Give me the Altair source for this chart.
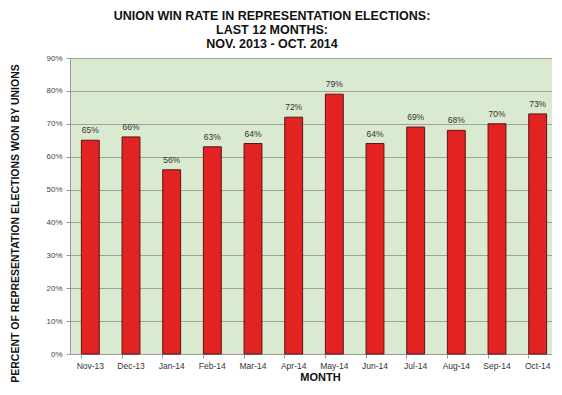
import altair as alt
import pandas as pd

months = ["Nov-13", "Dec-13", "Jan-14", "Feb-14", "Mar-14", "Apr-14",
          "May-14", "Jun-14", "Jul-14", "Aug-14", "Sep-14", "Oct-14"]
win_rate = [65, 66, 56, 63, 64, 72, 79, 64, 69, 68, 70, 73]
labels = [f"{v}%" for v in win_rate]
y_ticks = [0, 10, 20, 30, 40, 50, 60, 70, 80, 90]

df = pd.DataFrame({"month": months, "rate": win_rate, "label": labels})

FONT = "Liberation Sans"

x_enc = alt.X("month:N", sort=months,
              scale=alt.Scale(paddingInner=0.56, paddingOuter=0.28, range=[0, 488]),
              axis=alt.Axis(title="MONTH", labelAngle=0, labelFontSize=8.5,
                            labelColor="#333333", labelPadding=3,
                            titleFontSize=11, titleFontWeight="bold",
                            titleColor="#111111", titlePadding=2, titleX=250,
                            domainColor="#999999", tickColor="#999999",
                            tickSize=4, ticks=True, bandPosition=0))
y_enc = alt.Y("rate:Q",
              scale=alt.Scale(domain=[0, 90], nice=False),
              axis=alt.Axis(title="PERCENT OF REPRESENTATION ELECTIONS WON BY UNIONS",
                            values=y_ticks, labelExpr="datum.value + '%'",
                            labelFontSize=8, labelColor="#444444", labelPadding=4,
                            labelOverlap=False,
                            titleFontSize=10.5, titleFontWeight="bold",
                            titleColor="#111111", titleX=-55, titleY=165,
                            titleAngle=270, titleAlign="center",
                            titleBaseline="middle",
                            domainColor="#999999", tickColor="#999999",
                            tickSize=4, gridColor="#9aa597", gridWidth=1))

base = alt.Chart(df).encode(x=x_enc, y=y_enc)

bars = base.mark_bar(color="#e32222", stroke="#5a1515", strokeWidth=1)

text = base.mark_text(dy=-10, fontSize=8.5, color="#333333",
                      font=FONT, baseline="middle").encode(text="label:N")

chart = alt.layer(bars, text).properties(
    width=482, height=296,
    title=alt.TitleParams(
        ["UNION WIN RATE IN REPRESENTATION ELECTIONS:", "LAST 12 MONTHS:",
         "NOV. 2013 - OCT. 2014"],
        fontSize=12.5, fontWeight="bold", color="#111111", font=FONT,
        anchor="middle", frame="group", dx=-39, offset=4, lineHeight=14),
    autosize=alt.AutoSizeParams(type="none"),
    padding={"left": 62, "top": 50, "right": 0, "bottom": 28},
).configure(font=FONT).configure_view(
    fill="#d9ead0", stroke="#aaaaaa", strokeWidth=1
).configure_axis(labelFont=FONT, titleFont=FONT)

chart.save("out.html", embed_options={"renderer": "svg", "actions": False})
